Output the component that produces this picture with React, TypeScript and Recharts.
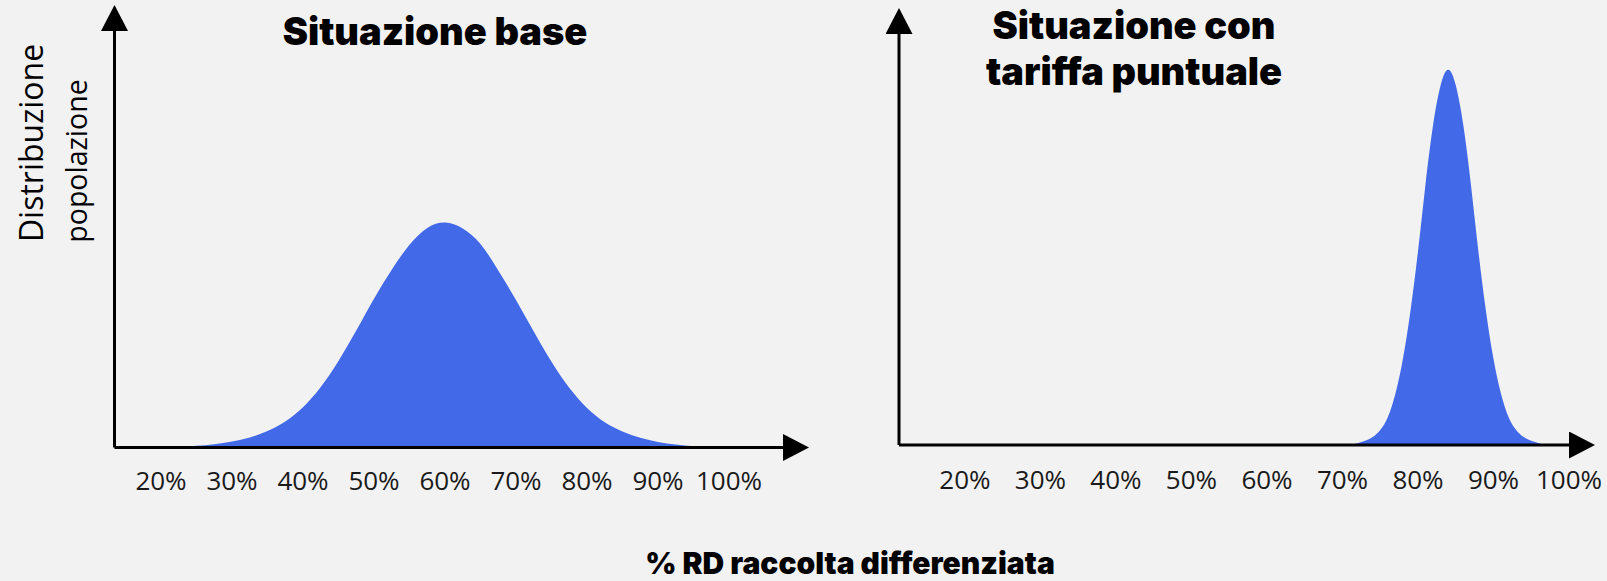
import React from "react";
import { AreaChart, Area, XAxis, YAxis } from "recharts";

const BLUE = "#4169E8";
const TICK_VALUES = [20, 30, 40, 50, 60, 70, 80, 90, 100];

// situazione base: % RD vs quota popolazione
const baseX = [
  22.5, 25, 27.5, 30, 32.5, 35, 37.5, 40, 42.5, 45, 47.5, 50, 52.5, 55, 57.5, 60,
  62.5, 65, 67.5, 70, 72.5, 75, 77.5, 80, 82.5, 85, 87.5, 90, 92.5, 95, 97.5,
];
const baseY = [
  0, 0.4, 0.8, 1.4, 2.4, 3.9, 6.2, 9.6, 14.4, 20.6, 27.8, 35.4, 42.3, 48.2, 52.2, 53.5,
  52.1, 48.4, 42.1, 35.1, 27.6, 20.4, 14.2, 9.4, 6.0, 3.8, 2.3, 1.3, 0.7, 0.3, 0,
];

// situazione con tariffa puntuale
const tariffaX = [
  71, 72, 73, 74, 75, 76, 77, 78, 79, 80, 81, 82, 83, 84,
  85, 86, 87, 88, 89, 90, 91, 92, 93, 94, 95, 96, 97,
];
const tariffaY = [
  0, 0.4, 1.0, 1.9, 3.6, 6.7, 12.3, 20.7, 32.3, 46.7, 62.9, 77.1, 86.7, 90.4,
  86.7, 77.1, 62.9, 46.7, 32.3, 20.7, 12.3, 6.7, 3.6, 1.9, 1.0, 0.4, 0,
];

const toRows = (xs: number[], ys: number[]) => xs.map((x, i) => ({ x, y: ys[i] }));

const tickStyle = { fontSize: 26, fill: "#1a1a1a", fontFamily: "'Open Sans', sans-serif" };

type PanelProps = {
  id: string;
  data: { x: number; y: number }[];
  domain: [number, number];
  width: number;
  margin: { top: number; right: number; bottom: number; left: number };
  tickMargin: number;
};

const Panel: React.FC<PanelProps> = ({ id, data, domain, width, margin, tickMargin }) => (
  <AreaChart width={width} height={581} data={data} margin={margin}>
    <defs>
      <marker
        id={id}
        viewBox="0 0 26 27"
        markerWidth={26}
        markerHeight={27}
        refX={4}
        refY={13.5}
        orient="auto-start-reverse"
        markerUnits="userSpaceOnUse"
      >
        <path d="M0,0 L26,13.5 L0,27 Z" fill="#000" />
      </marker>
    </defs>
    <XAxis
      dataKey="x"
      type="number"
      domain={domain}
      ticks={TICK_VALUES}
      interval={0}
      tickFormatter={(v) => `${v}%`}
      tickLine={false}
      tickMargin={tickMargin}
      tick={tickStyle}
      height={60}
      axisLine={{ stroke: "#000", strokeWidth: 3, markerEnd: `url(#${id})` }}
    />
    <YAxis
      type="number"
      domain={[0, 100]}
      width={1}
      tick={false}
      tickLine={false}
      axisLine={{ stroke: "#000", strokeWidth: 3, markerStart: `url(#${id})` }}
    />
    <Area
      type="natural"
      dataKey="y"
      stroke="none"
      fill={BLUE}
      fillOpacity={1}
      isAnimationActive={false}
    />
  </AreaChart>
);

const App: React.FC = () => (
  <div
    style={{
      position: "absolute",
      left: 0,
      top: 0,
      width: 1607,
      height: 581,
      background: "#f2f2f2",
      overflow: "hidden",
    }}
  >
    <div style={{ position: "absolute", left: 0, top: 0 }}>
      <Panel
        id="arrowBase"
        data={toRows(baseX, baseY)}
        domain={[13.45, 108.17]}
        width={820}
        margin={{ top: 27, right: 33, bottom: 73.5, left: 113.5 }}
        tickMargin={18}
      />
    </div>
    <div style={{ position: "absolute", left: 820, top: 0 }}>
      <Panel
        id="arrowTariffa"
        data={toRows(tariffaX, tariffaY)}
        domain={[11.26, 100.53]}
        width={787}
        margin={{ top: 30, right: 34, bottom: 76, left: 78 }}
        tickMargin={20}
      />
    </div>
    <svg
      width={1607}
      height={581}
      style={{ position: "absolute", left: 0, top: 0, pointerEvents: "none" }}
    >
      <g fontFamily="Inter, sans-serif" fontWeight={900} fill="#000" textAnchor="middle">
        <text x={435} y={45} fontSize={38}>Situazione base</text>
        <text x={1134} y={39} fontSize={38}>Situazione con</text>
        <text x={1134} y={85} fontSize={38}>tariffa puntuale</text>
        <text x={850} y={574} fontSize={30}>% RD raccolta differenziata</text>
      </g>
      <g fontFamily="'Open Sans', sans-serif" fontSize={32} fill="#000" textAnchor="middle">
        <text transform="translate(43,143) rotate(-90)">Distribuzione</text>
        <text transform="translate(87,161) rotate(-90)" fontSize={28.5}>popolazione</text>
      </g>
    </svg>
  </div>
);

export default App;
